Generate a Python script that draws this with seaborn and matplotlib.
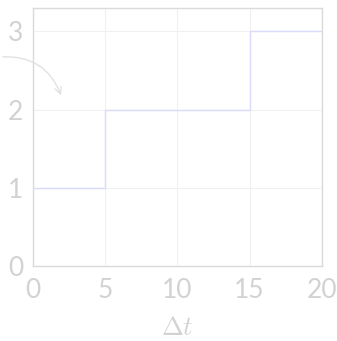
import matplotlib
matplotlib.use("Agg")
import matplotlib.pyplot as plt
import seaborn as sns
import pandas as pd

# Piecewise-constant step values
t_breaks = [0, 5, 15, 20]
levels = [1, 2, 3, 3]
x_ticks = [0, 5, 10, 15, 20]
y_ticks = [0, 1, 2, 3]

sns.set_theme(style="white")
plt.rcParams["font.family"] = ["Lato", "DejaVu Sans"]
plt.rcParams["mathtext.fontset"] = "cm"

text_c = "#d2d2d2"
spine_c = "#dadada"
grid_c = "#f0f0f0"
line_c = "#dadafb"

fig = plt.figure(figsize=(3.37, 3.41), dpi=100)
ax = fig.add_axes([0.098, 0.22, 0.857, 0.757])

df = pd.DataFrame({"t": t_breaks, "v": levels})
sns.lineplot(data=df, x="t", y="v", ax=ax, color=line_c, linewidth=1.0,
             drawstyle="steps-post")

ax.set_xlim(0, 20)
ax.set_ylim(0, 3.3)
ax.set_xticks(x_ticks)
ax.set_yticks(y_ticks)
ax.grid(True, color=grid_c, linewidth=0.8)
for s in ax.spines.values():
    s.set_color(spine_c)
    s.set_linewidth(1.0)
ax.tick_params(axis="both", colors="#e9e9e9", labelcolor=text_c,
               labelsize=19, direction="in", length=0)
ax.tick_params(axis="x", pad=9)
ax.tick_params(axis="y", pad=7)
ax.set_xlabel(r"$\Delta t$", color=text_c, fontsize=19, labelpad=8)
ax.set_ylabel("")

ax.annotate("", xy=(62, 243), xycoords="figure pixels",
            xytext=(0, 284), textcoords="figure pixels",
            arrowprops=dict(arrowstyle="->", color="#e2e2e2", lw=1.0,
                            connectionstyle="arc3,rad=-0.38"),
            annotation_clip=False)

fig.savefig("out.png", dpi=100)
